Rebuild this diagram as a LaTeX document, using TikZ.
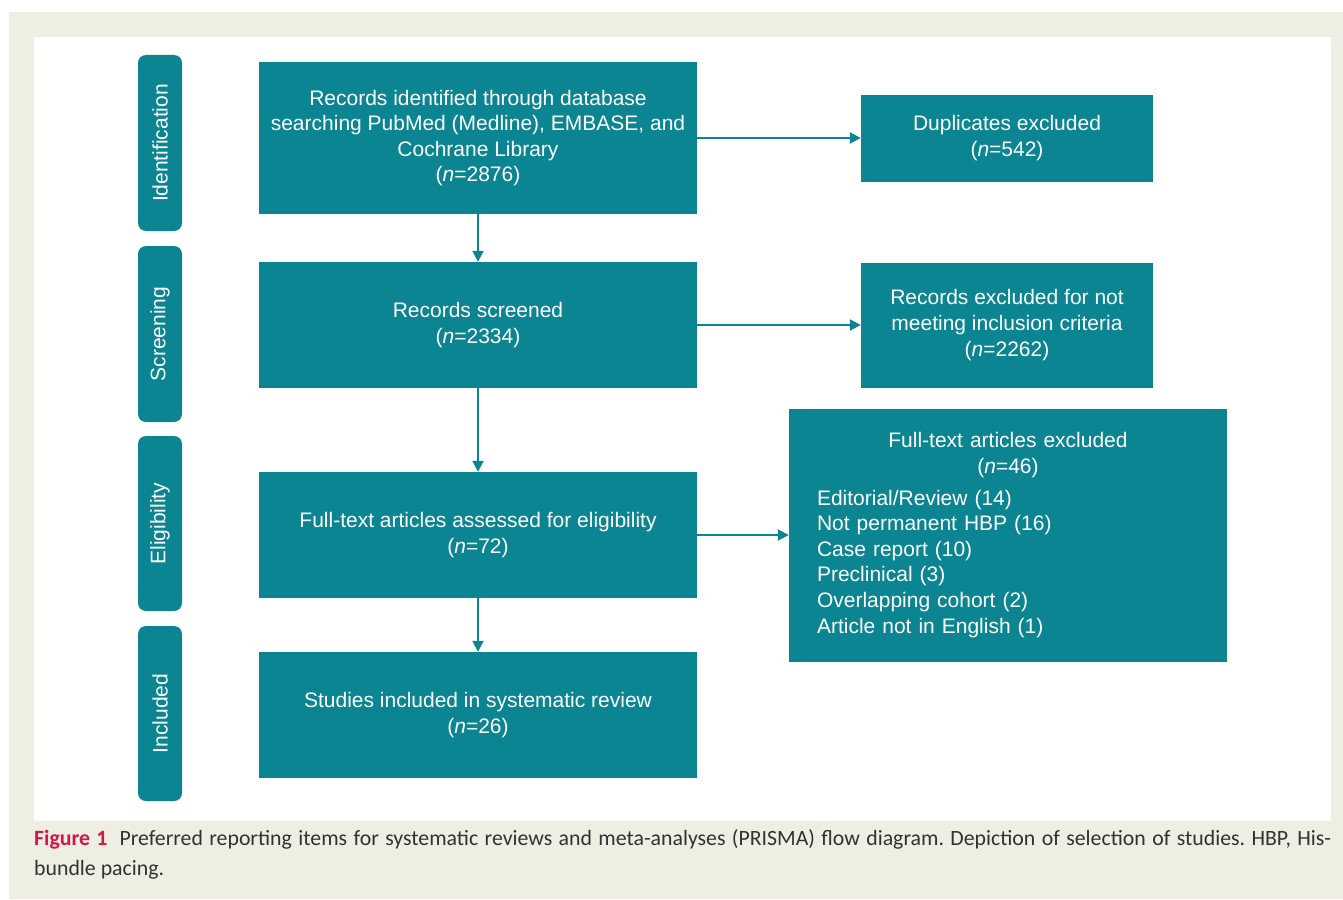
\documentclass[tikz,border=0pt]{standalone}
\usepackage{fontspec}
\setmainfont{Liberation Sans}
\newfontfamily\capfont{Carlito}
\usetikzlibrary{arrows.meta}
\definecolor{tealbox}{RGB}{10,133,145}
\definecolor{beigebg}{RGB}{239,238,227}
\definecolor{capred}{RGB}{213,22,72}
\definecolor{captext}{RGB}{50,50,50}
\frenchspacing
\begin{document}
\begin{tikzpicture}[x=1pt,y=-1pt,
  box/.style={fill=tealbox, text=white, inner sep=0pt, align=center,
    font=\fontsize{21}{25.6}\selectfont},
  pill/.style={fill=tealbox, text=white, inner sep=0pt, rounded corners=8pt,
    rotate=90, minimum height=44pt, font=\fontsize{21}{25.6}\selectfont},
  arr/.style={draw=tealbox, line width=2pt, -{Triangle[length=11pt,width=11pt]}},
  captionline/.style={anchor=base west, inner sep=0pt, text=captext,
    font=\capfont\fontsize{21.8}{29}\selectfont}]
\useasboundingbox (0,0) rectangle (1343,899);
\fill[white] (0,0) rectangle (1343,899);
\fill[beigebg] (9,12) rectangle (1343,899);
\fill[white] (34,37) rectangle (1331,821);

% stage pills
\node[pill, minimum width=176pt] (pid) at (160,143) {Identification};
\node[pill, minimum width=176pt] (psc) at (160,334) {Screening};
\node[pill, minimum width=175pt] (pel) at (160,523.5) {Eligibility};
\node[pill, minimum width=175pt] (pin) at (160,713.5) {Included};

% main column
\node[box, minimum width=438pt, minimum height=152pt] (b1) at (478,138)
  {Records identified through database\\searching PubMed (Medline), EMBASE, and\\Cochrane Library\\(\textit{n}=2876)};
\node[box, minimum width=438pt, minimum height=126pt] (b2) at (478,325)
  {Records screened\\(\textit{n}=2334)};
\node[box, minimum width=438pt, minimum height=126pt] (b3) at (478,535)
  {Full-text articles assessed for eligibility\\(\textit{n}=72)};
\node[box, minimum width=438pt, minimum height=126pt] (b4) at (478,715)
  {Studies included in systematic review\\(\textit{n}=26)};

% exclusion column
\node[box, minimum width=292pt, minimum height=87pt] (dup) at (1007,138)
  {Duplicates excluded\\(\textit{n}=542)};
\node[box, minimum width=292pt, minimum height=125pt] (rex) at (1007,325)
  {Records excluded for not\\meeting inclusion criteria\\(\textit{n}=2262)};
\node[box, minimum width=438pt, minimum height=253pt, text width=382pt, align=left] (ftx) at (1008,535)
  {{\centering Full-text articles excluded\\(\textit{n}=46)\par}\vspace{6pt}%
   Editorial/Review (14)\\Not permanent HBP (16)\\Case report (10)\\Preclinical (3)\\Overlapping cohort (2)\\Article not in English (1)};

% connectors
\draw[arr] (b1) -- (b2);
\draw[arr] (b2) -- (b3);
\draw[arr] (b3) -- (b4);
\draw[arr] (b1) -- (dup);
\draw[arr] (b2) -- (rex);
\draw[arr] (b3) -- (ftx);

% caption
\node[captionline] (cap1) at (34,845.7) {\makebox[1297pt][s]{{\bfseries\color{capred}Figure 1}\hspace{12pt}Preferred reporting items for systematic reviews and meta-analyses (PRISMA) flow diagram. Depiction of selection of studies. HBP, His-}};
\node[captionline] (cap2) at (34,875) {bundle pacing.};
\end{tikzpicture}
\end{document}
